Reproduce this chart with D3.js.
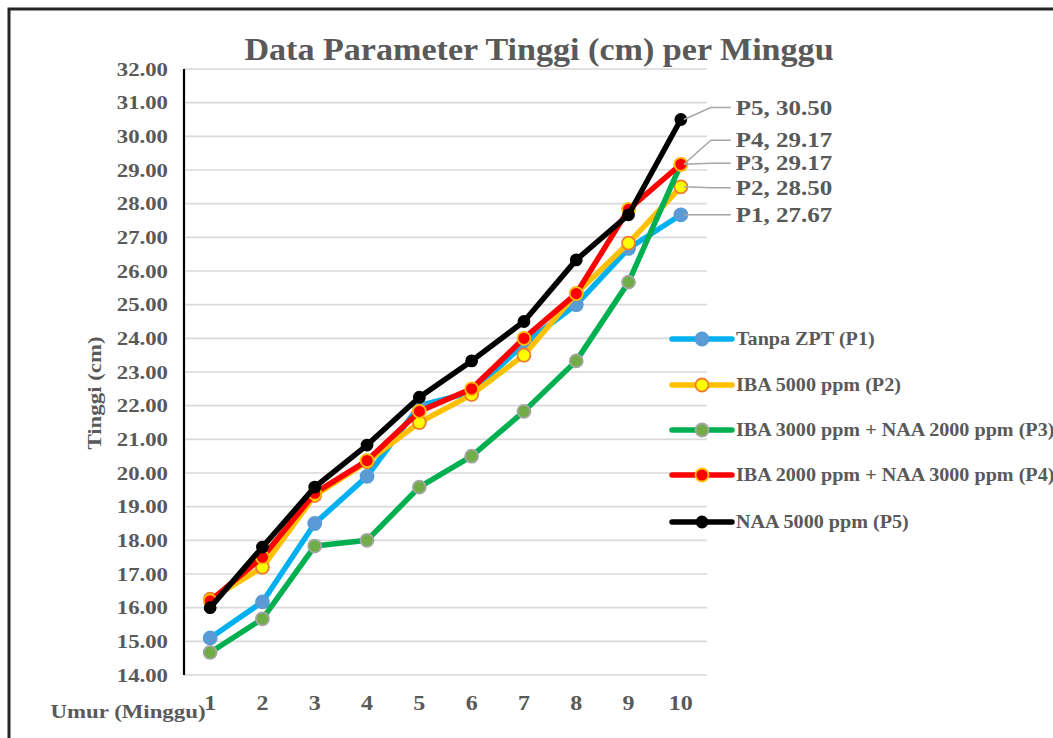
<!DOCTYPE html>
<html><head><meta charset="utf-8">
<script src="https://cdn.jsdelivr.net/npm/d3@7"></script>
<style>
html,body{margin:0;padding:0;background:#fff;}
svg{display:block;}
text{font-family:"Liberation Serif","Times New Roman",serif;font-weight:bold;fill:#595959;}
</style></head>
<body>
<svg id="chart" width="1053" height="738"></svg>
<script>
const weeks = [1,2,3,4,5,6,7,8,9,10];
const seriesNames = ["Tanpa ZPT (P1)","IBA 5000 ppm (P2)","IBA 3000 ppm + NAA 2000 ppm (P3)","IBA 2000 ppm + NAA 3000 ppm (P4)","NAA 5000 ppm (P5)"];
const seriesCodes = ["P1","P2","P3","P4","P5"];
const p1 = [15.10,16.17,18.50,19.90,22.00,22.40,23.83,25.00,26.67,27.67];
const p2 = [16.25,17.20,19.33,20.33,21.50,22.33,23.50,25.33,26.83,28.50];
const p3 = [14.67,15.67,17.83,18.00,19.58,20.50,21.83,23.33,25.67,29.17];
const p4 = [16.20,17.50,19.40,20.37,21.83,22.50,24.00,25.33,27.83,29.17];
const p5 = [16.00,17.80,19.58,20.83,22.25,23.33,24.50,26.33,27.67,30.50];
const yTicks = [14,15,16,17,18,19,20,21,22,23,24,25,26,27,28,29,30,31,32];
const title = "Data Parameter Tinggi (cm) per Minggu";
const yTitle = "Tinggi (cm)";
const xTitle = "Umur (Minggu)";

const values = [p1,p2,p3,p4,p5];
const styles = [
  {line:"#00b0f0", fill:"#5b9bd5", stroke:"#5b9bd5", r:6.5},
  {line:"#ffc000", fill:"#ffff00", stroke:"#ed7d31", r:6.5},
  {line:"#00b050", fill:"#70ad47", stroke:"#a5a5a5", r:6.5},
  {line:"#ff0000", fill:"#ff0000", stroke:"#ffc000", r:6.5},
  {line:"#000000", fill:"#000000", stroke:"#000000", r:5.5}
];
// label vertical offsets (px) relative to the last point
const labelDy = [0, 1, -1, -24, -12];

const svg = d3.select("#chart");
const L = 184, R = 707, T = 69, B = 675;
const x = d3.scalePoint().domain(weeks).range([L,R]).padding(0.5);
const y = d3.scaleLinear().domain([14,32]).range([B,T]);

// frame
svg.append("rect").attr("x",9).attr("y",9).attr("width",1100).attr("height",800)
  .attr("fill","none").attr("stroke","#262626").attr("stroke-width",3);

// gridlines
svg.append("g").selectAll("line").data(yTicks).join("line")
  .attr("x1",L).attr("x2",R).attr("y1",d=>y(d)).attr("y2",d=>y(d))
  .attr("stroke","#d9d9d9").attr("stroke-width",1.6);

// y axis
const yAxis = svg.append("g").attr("transform",`translate(${L},0)`)
  .call(d3.axisLeft(y).tickValues(yTicks).tickFormat(d3.format(".2f")).tickSize(0).tickPadding(16));
yAxis.select(".domain").attr("stroke","#000").attr("stroke-width",2.2).attr("d",`M0,${T}V${B}`);
yAxis.selectAll("text").attr("font-size",19).attr("fill","#595959")
  .attr("font-family","Liberation Serif, Times New Roman, serif")
  .attr("transform","scale(1.2,1)").attr("x",-16/1.2);

// x axis
const xAxis = svg.append("g").attr("transform",`translate(0,${B})`)
  .call(d3.axisBottom(x).tickSize(0).tickPadding(21));
xAxis.select(".domain").remove();
xAxis.selectAll("text").attr("font-size",20).attr("fill","#595959")
  .attr("font-family","Liberation Serif, Times New Roman, serif")
  .attr("transform",function(){ return "scale(1.2,1)"; })
  .attr("x",function(){ return 0; });
xAxis.selectAll(".tick").each(function(d){
  d3.select(this).attr("transform",`translate(${x(d)},0)`);
});

// title
svg.append("text").attr("transform","translate(539,60) scale(1.1,1)")
  .attr("text-anchor","middle").attr("font-size",31).text(title);
// y title
svg.append("text").attr("transform","translate(101,393) rotate(-90) scale(1.27,1)")
  .attr("text-anchor","middle").attr("font-size",18).text(yTitle);
// x title
svg.append("text").attr("transform","translate(128,718) scale(1.27,1)")
  .attr("text-anchor","middle").attr("font-size",18).text(xTitle);

// series
const line = d3.line().x((d,i)=>x(weeks[i])).y(d=>y(d));
values.forEach((vals,s)=>{
  const g = svg.append("g");
  g.append("path").datum(vals).attr("d",line).attr("fill","none")
    .attr("stroke",styles[s].line).attr("stroke-width",5.5).attr("stroke-linejoin","round").attr("stroke-linecap","round");
  g.selectAll("circle").data(vals).join("circle")
    .attr("cx",(d,i)=>x(weeks[i])).attr("cy",d=>y(d)).attr("r",styles[s].r)
    .attr("fill",styles[s].fill).attr("stroke",styles[s].stroke).attr("stroke-width",1.8);
});

// data labels at last point
values.forEach((vals,s)=>{
  const px = x(weeks[weeks.length-1]), py = y(vals[vals.length-1]);
  const ly = py + labelDy[s];
  svg.append("path").attr("d",`M${px+3},${py}L${px+30},${ly}L${px+50},${ly}`)
    .attr("fill","none").attr("stroke","#a6a6a6").attr("stroke-width",1.5);
  svg.append("text").attr("transform",`translate(${px+55},${ly+7}) scale(1.25,1)`)
    .attr("font-size",20).attr("fill","#404040")
    .text(`${seriesCodes[s]}, ${d3.format(".2f")(vals[vals.length-1])}`);
});

// legend
const legY = [339,385,430,475,522];
seriesNames.forEach((name,s)=>{
  const g = svg.append("g").attr("transform",`translate(672,${legY[s]})`);
  g.append("line").attr("x1",0).attr("x2",60).attr("stroke",styles[s].line).attr("stroke-width",5.5).attr("stroke-linecap","round");
  g.append("circle").attr("cx",30).attr("r",styles[s].r).attr("fill",styles[s].fill)
    .attr("stroke",styles[s].stroke).attr("stroke-width",1.8);
  g.append("text").attr("transform","translate(64,6) scale(1.06,1)").attr("font-size",19).text(name);
});
</script>
</body></html>
